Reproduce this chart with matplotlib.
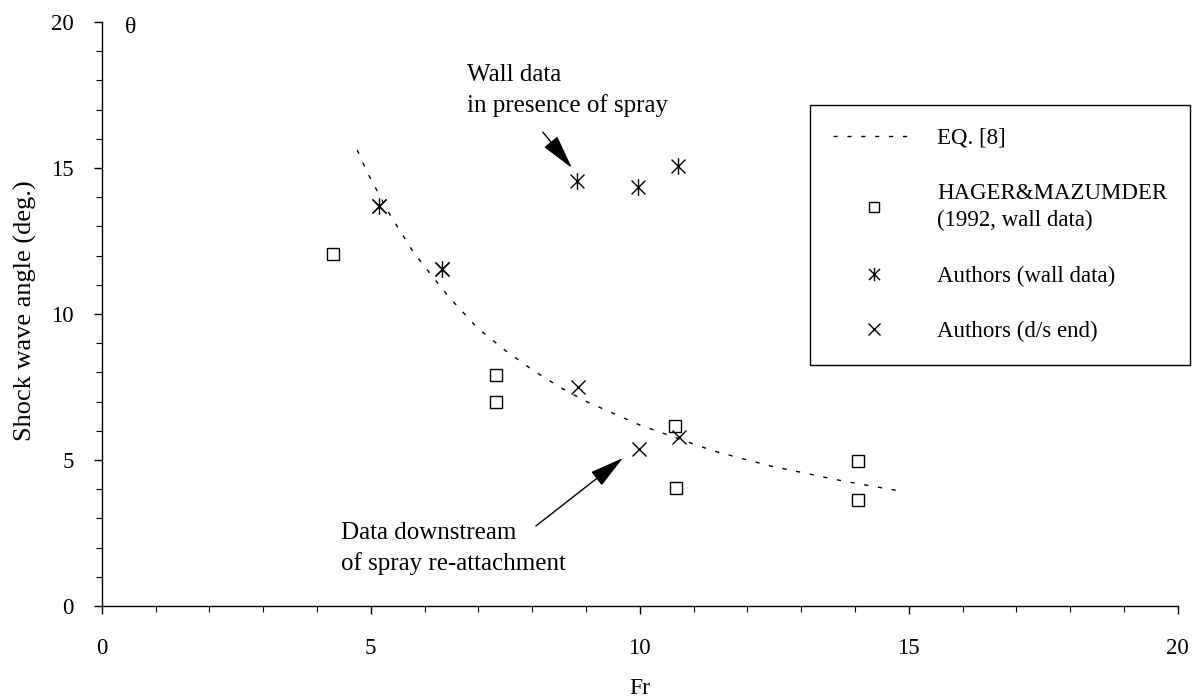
import matplotlib
matplotlib.use('Agg')
import matplotlib.pyplot as plt
from matplotlib.path import Path
from matplotlib.ticker import MultipleLocator

plt.rcParams['font.family'] = ['Liberation Serif', 'DejaVu Serif']

# ---- data ----
# Eq. [8] curve
eq_fr = [4.75, 4.93, 5.36, 5.79, 6.03, 6.45, 6.98, 7.51, 8.01, 8.52, 9.01, 10.0, 11.37, 12.42, 13.78, 14.8]
eq_theta = [15.62, 14.87, 13.39, 12.13, 11.56, 10.59, 9.53, 8.74, 8.08, 7.49, 7.0, 6.2, 5.31, 4.8, 4.28, 3.95]

# Hager & Mazumder (1992, wall data)
hager_fr = [4.30, 7.33, 7.33, 10.66, 10.67, 14.05, 14.06]
hager_theta = [12.04, 7.91, 7.0, 6.16, 4.05, 4.98, 3.63]

# Authors (wall data)
wall_fr = [5.16, 6.33, 8.83, 9.96, 10.72]
wall_theta = [13.71, 11.53, 14.55, 14.36, 15.08]

# Authors (d/s end)
ds_fr = [5.16, 6.33, 8.86, 9.99, 10.73]
ds_theta = [13.71, 11.53, 7.49, 5.39, 5.78]

x_ticks = [0, 5, 10, 15, 20]
y_ticks = [0, 5, 10, 15, 20]

labels = ['EQ. [8]', 'HAGER&MAZUMDER\n(1992, wall data)',
          'Authors (wall data)', 'Authors (d/s end)']

# ---- figure ----
W, H = 1195, 699
fig = plt.figure(figsize=(W / 100, H / 100), dpi=100)
ax = fig.add_axes([101.7 / W, 93 / H, 1076 / W, 584 / H])

asterisk = Path([(-1, -1), (1, 1), (-1, 1), (1, -1), (0, -1.2), (0, 1.2)],
                [Path.MOVETO, Path.LINETO] * 3)

l_eq, = ax.plot(eq_fr, eq_theta, color='black', lw=1.0, linestyle=(0, (3, 7)))
l_h, = ax.plot(hager_fr, hager_theta, linestyle='none', marker='s', ms=8.6,
               mfc='none', mec='black', mew=1.0)
l_w, = ax.plot(wall_fr, wall_theta, linestyle='none', marker=asterisk, ms=12,
               mfc='none', mec='black', mew=1.0)
l_d, = ax.plot(ds_fr, ds_theta, linestyle='none', marker='x', ms=10,
               mfc='none', mec='black', mew=1.0)

ax.set_xlim(0, 20)
ax.set_ylim(0, 20)
for s in ['top', 'right']:
    ax.spines[s].set_visible(False)
for s in ['left', 'bottom']:
    ax.spines[s].set_linewidth(1.0)
    ax.spines[s].set_color('black')

ax.set_xticks(x_ticks)
ax.set_yticks(y_ticks)
ax.xaxis.set_minor_locator(MultipleLocator(1))
ax.yaxis.set_minor_locator(MultipleLocator(1))
ax.tick_params(which='major', direction='out', length=6, width=1, labelsize=16.5)
ax.tick_params(which='minor', direction='out', length=4, width=0.8)
ax.tick_params(axis='x', which='major', pad=17)
ax.tick_params(axis='y', which='major', pad=14)

ax.set_xlabel('Fr', fontsize=17)
ax.xaxis.label.set_verticalalignment('center')
ax.xaxis.set_label_coords(0.5, (606 - 688) / 584)
ax.set_ylabel('Shock wave angle (deg.)', fontsize=19)
ax.yaxis.label.set_verticalalignment('center')
ax.yaxis.set_label_coords((25 - 101.7) / 1076, (606 - 311) / 584)

ax.text(0.53, 19.8, 'θ', fontsize=17, ha='center', va='center')

# annotations
arrow = dict(arrowstyle='-|>,head_length=1.2,head_width=0.3', mutation_scale=18,
             color='black', lw=1.0, shrinkA=0, shrinkB=0)
ax.annotate('', xy=(8.74, 15.0), xytext=(8.20, 16.23), arrowprops=arrow)
ax.text(6.79, 17.65, 'Wall data\nin presence of spray', fontsize=18,
        ha='left', va='center', linespacing=1.45)
ax.annotate('', xy=(9.69, 5.07), xytext=(8.07, 2.74), arrowprops=arrow)
ax.text(4.45, 1.97, 'Data downstream\nof spray re-attachment', fontsize=18,
        ha='left', va='center', linespacing=1.45)

leg = ax.legend([l_eq, l_h, l_w, l_d], labels, loc='upper left',
                bbox_to_anchor=(810 / W, 1 - 105 / H), bbox_transform=fig.transFigure,
                frameon=True, fancybox=False, edgecolor='black', framealpha=1,
                borderpad=1.0, labelspacing=1.5, handlelength=3.6,
                handletextpad=0.95, borderaxespad=0, fontsize=16.5, numpoints=1,
                markerscale=0.8)
for t in leg.get_texts():
    t.set_linespacing(1.35)
leg.get_frame().set_linewidth(1.0)

fig.savefig('out.png', dpi=100)
